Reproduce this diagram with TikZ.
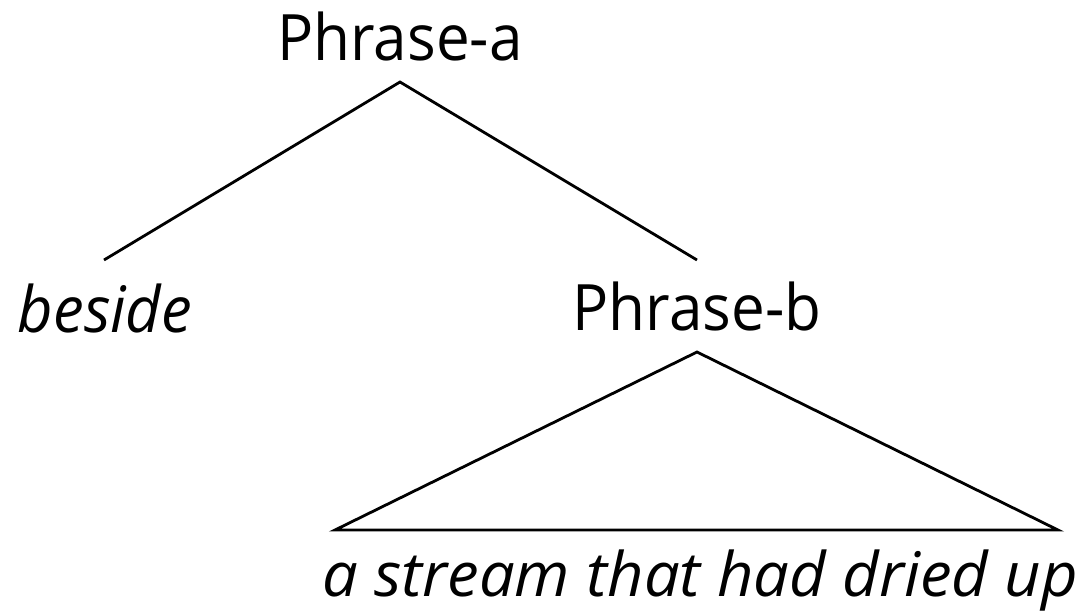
\documentclass[tikz,border=0pt]{standalone}
\usepackage{fontspec}
\setmainfont{Open Sans}
\begin{document}
\begin{tikzpicture}[x=1pt,y=-1pt,
  lbl/.style={inner sep=0pt,font=\fontsize{64}{72}\selectfont},
  branch/.style={line width=2.8pt,black}]
\useasboundingbox (0,0) rectangle (1087,614);
\node[lbl,anchor=base] (pa) at (400,60) {\scalebox{0.94}[1]{Phrase-a}};
\node[lbl,anchor=base] (bes) at (105,332) {\scalebox{0.96}[1]{\itshape beside}};
\node[lbl,anchor=base] (pb) at (697,330) {\scalebox{0.94}[1]{Phrase-b}};
\node[lbl,anchor=base] (str) at (700,596) {\scalebox{0.99}[0.96]{\itshape a stream that had dried up}};
\coordinate (ta) at (400,82);
\coordinate (l1) at (104,260);
\coordinate (r1) at (697,260);
\coordinate (tb) at (697,352);
\coordinate (bl) at (335,530);
\coordinate (br) at (1058,530);
\draw[branch] (l1) -- (ta) -- (r1);
\draw[branch,line join=miter] (tb) -- (bl) -- (br) -- cycle;
\end{tikzpicture}
\end{document}
